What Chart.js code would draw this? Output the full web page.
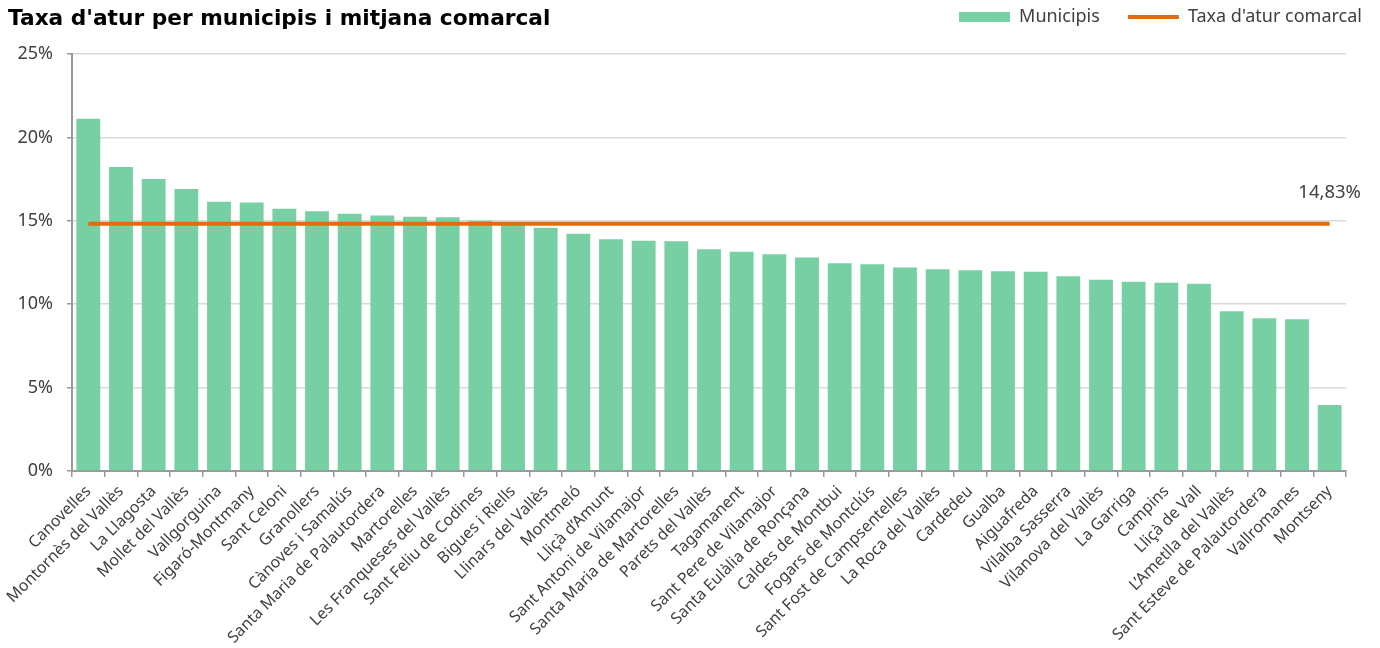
<!DOCTYPE html>
<html>
<head>
<meta charset="utf-8">
<script src="https://cdn.jsdelivr.net/npm/chart.js@4.4.1/dist/chart.umd.min.js"></script>
<style>
  html, body { margin: 0; padding: 0; background: #ffffff; }
  #wrap { position: relative; width: 1380px; height: 648px; }
  #title { position: absolute; left: 8px; top: 5px; font: bold 21.7px "DejaVu Sans", sans-serif; color: #000; white-space: nowrap; }
  canvas { position: absolute; left: 0; top: 0; }
</style>
</head>
<body>
<div id="wrap">
  <canvas id="c" width="1380" height="648"></canvas>
  <div id="title">Taxa d'atur per municipis i mitjana comarcal</div>
</div>
<script>
const categories = [
  "Canovelles", "Montornès del Vallès", "La Llagosta", "Mollet del Vallès", "Vallgorguina",
  "Figaró-Montmany", "Sant Celoni", "Granollers", "Cànoves i Samalús", "Santa Maria de Palautordera",
  "Martorelles", "Les Franqueses del Vallès", "Sant Feliu de Codines", "Bigues i Riells", "Llinars del Vallès",
  "Montmeló", "Lliçà d’Amunt", "Sant Antoni de Vilamajor", "Santa Maria de Martorelles", "Parets del Vallès",
  "Tagamanent", "Sant Pere de Vilamajor", "Santa Eulàlia de Ronçana", "Caldes de Montbui", "Fogars de Montclús",
  "Sant Fost de Campsentelles", "La Roca del Vallès", "Cardedeu", "Gualba", "Aiguafreda",
  "Vilalba Sasserra", "Vilanova del Vallès", "La Garriga", "Campins", "Lliçà de Vall",
  "L’Ametlla del Vallès", "Sant Esteve de Palautordera", "Vallromanes", "Montseny"
];
const municipalRates = [
  21.12, 18.22, 17.50, 16.90, 16.14,
  16.10, 15.72, 15.58, 15.42, 15.32,
  15.24, 15.22, 15.00, 14.90, 14.58,
  14.22, 13.90, 13.80, 13.78, 13.30,
  13.14, 13.00, 12.80, 12.46, 12.40,
  12.20, 12.10, 12.04, 11.98, 11.94,
  11.68, 11.46, 11.34, 11.28, 11.22,
  9.58, 9.16, 9.10, 3.96
];
const comarcalRate = 14.83;
const yTicks = [0, 5, 10, 15, 20, 25];
const seriesNames = ["Municipis", "Taxa d'atur comarcal"];

const FONT = '"Noto Sans", "Open Sans", sans-serif';
const TEXT = '#404040';

const lastPointLabel = {
  id: 'lastPointLabel',
  afterDatasetsDraw(chart) {
    const meta = chart.getDatasetMeta(0);
    const pt = meta.data[meta.data.length - 1];
    if (!pt) return;
    const ctx = chart.ctx;
    ctx.save();
    ctx.font = '18.5px ' + FONT;
    ctx.fillStyle = TEXT;
    ctx.textAlign = 'center';
    ctx.textBaseline = 'middle';
    ctx.fillText(comarcalRate.toFixed(2).replace('.', ',') + '%', pt.x, pt.y - 31);
    ctx.restore();
  }
};

new Chart(document.getElementById('c'), {
  data: {
    labels: categories,
    datasets: [
      {
        type: 'line',
        label: seriesNames[1],
        data: categories.map(() => comarcalRate),
        borderColor: '#E36C0A',
        backgroundColor: '#E36C0A',
        borderWidth: 4,
        pointRadius: 0,
        pointHoverRadius: 0,
        pointStyle: 'line',
        yAxisID: 'y'
      },
      {
        type: 'bar',
        label: seriesNames[0],
        data: municipalRates,
        backgroundColor: '#76D0A4',
        borderColor: '#A9E2C6',
        borderWidth: 0,
        pointStyle: 'rect',
        barPercentage: 0.73,
        categoryPercentage: 1.0,
        yAxisID: 'y'
      }
    ]
  },
  options: {
    responsive: false,
    animation: false,
    layout: { padding: { top: -20, right: -10, left: 0, bottom: 0 } },
    plugins: {
      title: { display: false },
      tooltip: { enabled: false },
      legend: {
        display: true,
        position: 'top',
        align: 'end',
        reverse: true,
        labels: {
          usePointStyle: true,
          pointStyleWidth: 51,
          boxHeight: 10,
          padding: 28,
          color: TEXT,
          font: { family: FONT, size: 18 }
        }
      }
    },
    scales: {
      x: {
        grid: { display: true, drawOnChartArea: false, offset: true, color: '#999999', tickLength: 6, lineWidth: 1.5 },
        border: { display: true, color: '#999999', width: 2 },
        ticks: {
          autoSkip: false, minRotation: 45, maxRotation: 45,
          color: TEXT, font: { family: FONT, size: 16 }, padding: 5
        },
        afterFit(s) { s.height = 177; }
      },
      xTop: {
        type: 'linear',
        axis: 'x',
        position: 'top',
        display: true,
        grid: { display: false, drawTicks: false },
        border: { display: false },
        ticks: { display: false },
        afterFit(s) { s.height = 18; }
      },
      y: {
        min: 0, max: 25,
        afterBuildTicks(s) { s.ticks = yTicks.map(v => ({ value: v })); },
        grid: { color: '#D9D9D9', lineWidth: 1.5, tickLength: 5, tickColor: '#999999' },
        border: { display: true, color: '#999999', width: 2 },
        ticks: {
          color: TEXT, font: { family: FONT, size: 18 }, padding: 14,
          callback: (v) => v + '%'
        },
        afterFit(s) { s.width = 72; }
      },
      yr: {
        position: 'right',
        display: true,
        grid: { display: false, drawTicks: false },
        border: { display: false },
        ticks: { display: false },
        afterFit(s) { s.width = 44; }
      }
    }
  },
  plugins: [lastPointLabel]
});
</script>
</body>
</html>
